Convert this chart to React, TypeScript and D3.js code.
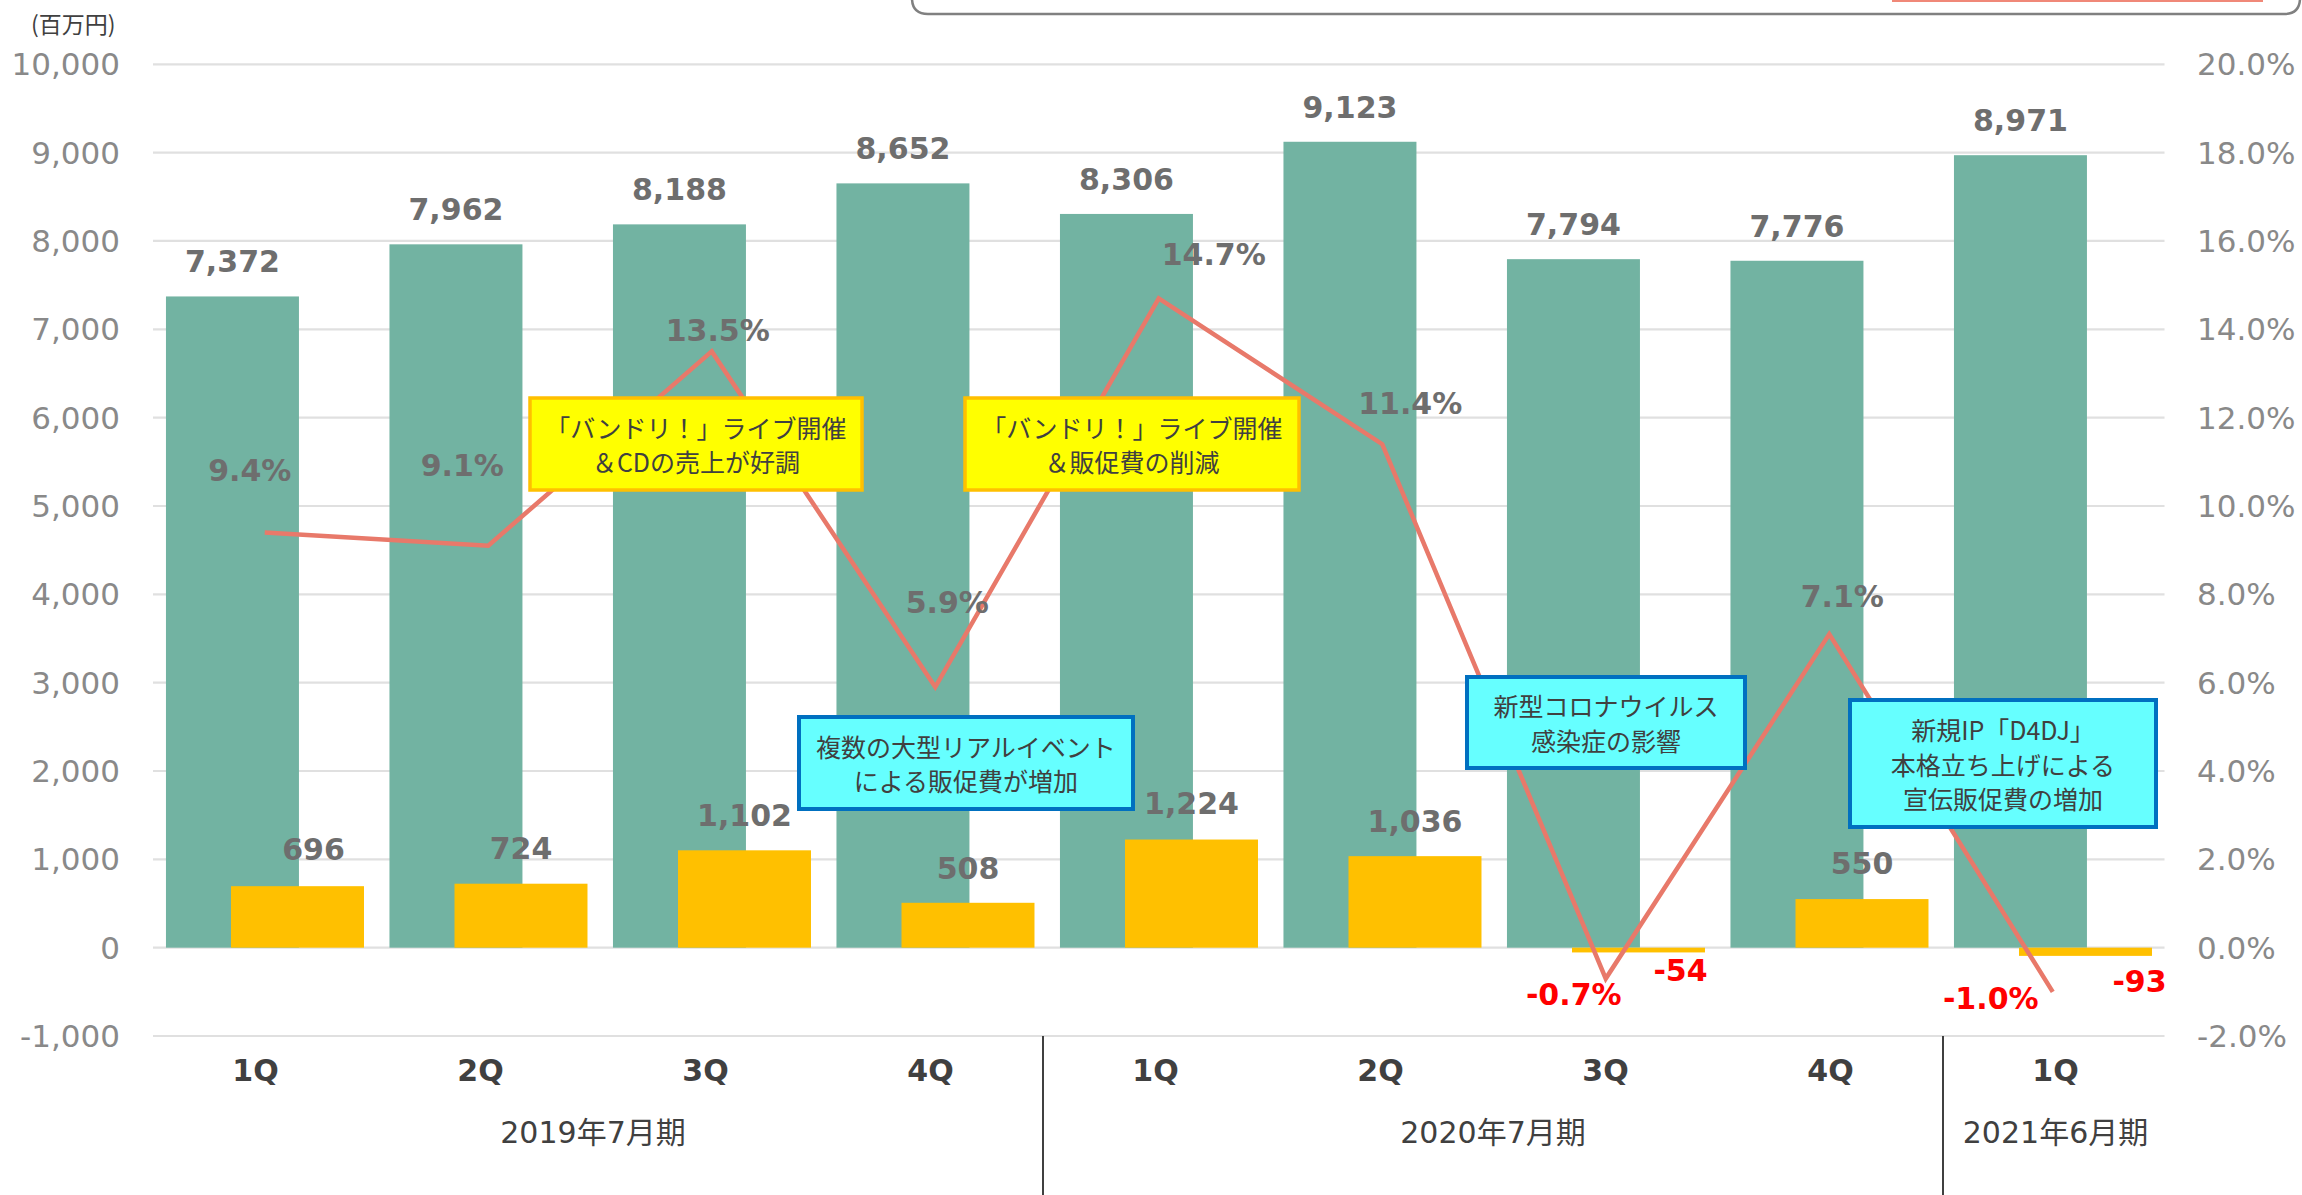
import React from "react";
import * as d3 from "d3";

// ---------- data ----------
const quarters = ["1Q", "2Q", "3Q", "4Q", "1Q", "2Q", "3Q", "4Q", "1Q"];
const fiscalYears = [
  { label: "2019年7月期", from: 0, to: 4 },
  { label: "2020年7月期", from: 4, to: 8 },
  { label: "2021年6月期", from: 8, to: 9 },
];
const sales = [7372, 7962, 8188, 8652, 8306, 9123, 7794, 7776, 8971];
const operatingIncome = [696, 724, 1102, 508, 1224, 1036, -54, 550, -93];
const margin = [9.4, 9.1, 13.5, 5.9, 14.7, 11.4, -0.7, 7.1, -1.0];
const leftTicks = [-1000, 0, 1000, 2000, 3000, 4000, 5000, 6000, 7000, 8000, 9000, 10000];
const rightTicks = [-2, 0, 2, 4, 6, 8, 10, 12, 14, 16, 18, 20];
const unitLabel = "(百万円)";

const notes = [
  { lines: ["「バンドリ！」ライブ開催", "＆CDの売上が好調"], kind: "yellow" },
  { lines: ["「バンドリ！」ライブ開催", "＆販促費の削減"], kind: "yellow" },
  { lines: ["複数の大型リアルイベント", "による販促費が増加"], kind: "cyan" },
  { lines: ["新型コロナウイルス", "感染症の影響"], kind: "cyan" },
  { lines: ["新規IP「D4DJ」", "本格立ち上げによる", "宣伝販促費の増加"], kind: "cyan" },
];

// ---------- layout (pixels) ----------
const W = 2302;
const H = 1195;
const plotLeft = 153;
const plotRight = 2164.5;
const axisLeft = 143;
const axisRight = 2168;
const noteBoxes = [
  { x: 530, y: 398, w: 332, h: 92 },
  { x: 965, y: 398, w: 334, h: 92 },
  { x: 799, y: 717, w: 334, h: 92 },
  { x: 1467, y: 677, w: 278, h: 91 },
  { x: 1850, y: 700, w: 306, h: 127 },
];
// label nudges (pixels) for margin labels, relative to the point
const marginLabelOffset = [
  [-15, -62], [-26, -81], [6, -21], [12, -85], [55, -44],
  [28, -41], [-32, 16], [13, -38], [-62, 6],
];
// label nudges for operating income labels, relative to bar end
const opLabelOffset = [
  [16, -37], [0, -36], [0, -35], [0, -35], [0, -36],
  [0, -35], [42, 18], [0, -36], [54, 25],
];

const TEAL = "#72B3A2";
const GOLD = "#FFC000";
const LINE = "#E8796A";
const GRID = "#E0E0E0";
const LATIN = "'DejaVu Sans', 'Noto Sans CJK JP', sans-serif";
const JP = "'Noto Sans CJK JP', 'DejaVu Sans', sans-serif";

const fmtComma = d3.format(",");
const fmt = (v: number) => fmtComma(v).replace("\u2212", "-");

export default function App() {
  const x = d3
    .scaleBand<number>()
    .domain(d3.range(quarters.length))
    .range([plotLeft, plotRight])
    .paddingInner(0)
    .paddingOuter(0);
  const xAxis = d3
    .scaleBand<number>()
    .domain(d3.range(quarters.length))
    .range([axisLeft, axisRight])
    .paddingInner(0)
    .paddingOuter(0);
  const bw = x.bandwidth();
  const barW = bw * 0.595;
  const tealOff = bw * 0.058;
  const goldOff = bw * 0.349;

  const y = d3.scaleLinear().domain([-1000, 10000]).range([1036, 64.3]);
  const yR = d3.scaleLinear().domain([-2, 20]).range([1036, 64.3]);

  const cx = (i: number) => (x(i) as number) + bw / 2;

  const linePath = d3
    .line<number>()
    .x((_, i) => cx(i))
    .y((d) => yR(d))(margin) as string;

  return (
    <div style={{ position: "absolute", left: 0, top: 0 }}>
      <svg width={W} height={H} viewBox={`0 0 ${W} ${H}`} style={{ display: "block", background: "#fff" }}>
        {/* legend remnant at top */}
        <path
          d={`M 912 -40 L 912 -2 Q 912 14 928 14 L 2284 14 Q 2300 14 2300 -2 L 2300 -40`}
          fill="none"
          stroke="#808080"
          strokeWidth={2.5}
        />
        <line x1={1892} x2={2263} y1={0.5} y2={0.5} stroke="#F08878" strokeWidth={3} />

        {/* gridlines */}
        {leftTicks.map((t) => (
          <line key={"g" + t} x1={plotLeft} x2={plotRight} y1={y(t)} y2={y(t)} stroke={GRID} strokeWidth={2.2} />
        ))}

        {/* left axis labels */}
        {leftTicks.map((t) => (
          <text key={"l" + t} x={120} y={y(t)} dy="0.36em" textAnchor="end" fontFamily={LATIN} fontSize={31} fill="#898989">
            {fmt(t)}
          </text>
        ))}
        {/* right axis labels */}
        {rightTicks.map((t) => (
          <text key={"r" + t} x={2197} y={yR(t)} dy="0.36em" textAnchor="start" fontFamily={LATIN} fontSize={31} fill="#898989">
            {t.toFixed(1) + "%"}
          </text>
        ))}
        <text x={31} y={25} dy="0.36em" fontFamily={JP} fontSize={23} fill="#404040">
          {unitLabel}
        </text>

        {/* sales bars */}
        {sales.map((v, i) => (
          <rect key={"s" + i} x={(x(i) as number) + tealOff} y={y(v)} width={barW} height={y(0) - y(v)} fill={TEAL} />
        ))}
        {/* operating income bars */}
        {operatingIncome.map((v, i) => (
          <rect
            key={"o" + i}
            x={(x(i) as number) + goldOff}
            y={Math.min(y(v), y(0))}
            width={barW}
            height={Math.abs(y(0) - y(v))}
            fill={GOLD}
          />
        ))}

        {/* margin line */}
        <path d={linePath} fill="none" stroke={LINE} strokeWidth={4.5} strokeLinejoin="miter" />

        {/* sales labels */}
        {sales.map((v, i) => (
          <text
            key={"sl" + i}
            x={(x(i) as number) + tealOff + barW / 2}
            y={y(v) - 35}
            dy="0.36em"
            textAnchor="middle"
            fontFamily={LATIN}
            fontWeight="bold"
            fontSize={30}
            fill="#6E6E6E"
          >
            {fmt(v)}
          </text>
        ))}
        {/* operating income labels */}
        {operatingIncome.map((v, i) => (
          <text
            key={"ol" + i}
            x={(x(i) as number) + goldOff + barW / 2 + opLabelOffset[i][0]}
            y={y(v) + opLabelOffset[i][1]}
            dy="0.36em"
            textAnchor="middle"
            fontFamily={LATIN}
            fontWeight="bold"
            fontSize={30}
            fill={v < 0 ? "#FF0000" : "#6E6E6E"}
          >
            {fmt(v)}
          </text>
        ))}
        {/* margin labels */}
        {margin.map((v, i) => (
          <text
            key={"ml" + i}
            x={cx(i) + marginLabelOffset[i][0]}
            y={yR(v) + marginLabelOffset[i][1]}
            dy="0.36em"
            textAnchor="middle"
            fontFamily={LATIN}
            fontWeight="bold"
            fontSize={30}
            fill={v < 0 ? "#FF0000" : "#6E6E6E"}
          >
            {v.toFixed(1) + "%"}
          </text>
        ))}

        {/* category axis */}
        {quarters.map((q, i) => (
          <text
            key={"q" + i}
            x={(xAxis(i) as number) + xAxis.bandwidth() / 2}
            y={1070}
            dy="0.36em"
            textAnchor="middle"
            fontFamily={LATIN}
            fontWeight="bold"
            fontSize={30}
            fill="#404040"
          >
            {q}
          </text>
        ))}
        {fiscalYears.map((fy, k) => {
          const x0 = xAxis(fy.from) as number;
          const x1 = fy.to >= quarters.length ? axisRight : (xAxis(fy.to) as number);
          return (
            <text key={"fy" + k} x={(x0 + x1) / 2} y={1132} dy="0.36em" textAnchor="middle" fontFamily={LATIN} fontSize={30} fill="#404040">
              {fy.label}
            </text>
          );
        })}
        {fiscalYears.slice(1).map((fy, k) => (
          <line
            key={"dv" + k}
            x1={xAxis(fy.from) as number}
            x2={xAxis(fy.from) as number}
            y1={y(-1000)}
            y2={H}
            stroke="#404040"
            strokeWidth={2}
          />
        ))}

        {/* callouts */}
        {notes.map((n, k) => {
          const b = noteBoxes[k];
          const yellow = n.kind === "yellow";
          const lh = 34.5;
          const mid = b.y + b.h / 2 + 2;
          const start = mid - ((n.lines.length - 1) * lh) / 2;
          return (
            <g key={"n" + k}>
              <rect
                x={b.x}
                y={b.y}
                width={b.w}
                height={b.h}
                fill={yellow ? "#FFFF00" : "#66FFFF"}
                stroke={yellow ? "#FFC000" : "#0070C0"}
                strokeWidth={yellow ? 3.5 : 4}
              />
              {n.lines.map((ln, j) => (
                <text
                  key={j}
                  x={b.x + b.w / 2}
                  y={start + j * lh}
                  dy="0.36em"
                  textAnchor="middle"
                  fontFamily={JP}
                  fontSize={25}
                  fill="#404040"
                >
                  {ln}
                </text>
              ))}
            </g>
          );
        })}
      </svg>
    </div>
  );
}
